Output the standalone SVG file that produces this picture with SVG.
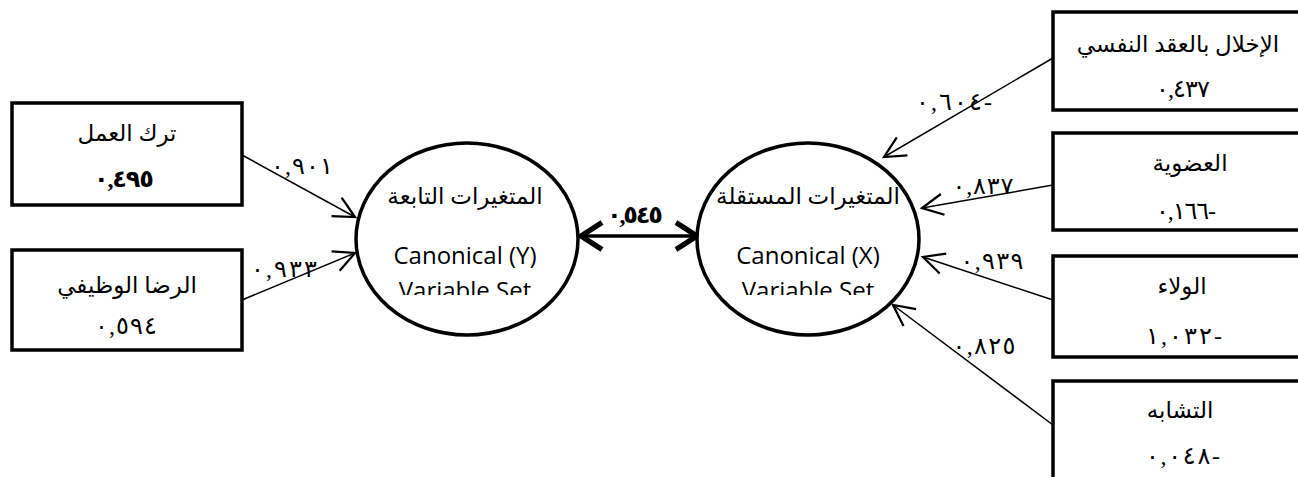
<svg xmlns="http://www.w3.org/2000/svg" width="1298" height="477" viewBox="0 0 1298 477">
<style>
.box{fill:#fff;stroke:#000;stroke-width:3.5}
.ell{fill:#fff;stroke:#000;stroke-width:3.5}
.ar{font-family:"Liberation Serif","DejaVu Sans",serif;font-size:23px;fill:#000;text-anchor:middle}
.num{font-family:"Liberation Serif","DejaVu Sans",serif;font-size:24px;fill:#000;text-anchor:middle}
.lat{font-family:"Open Sans","Liberation Sans",sans-serif;font-size:24px;fill:#000;text-anchor:middle}
.con{stroke:#000;stroke-width:1.5;fill:none}
.big{stroke:#000;stroke-width:3.5;fill:none}
</style>
<defs>
<marker id="ah" markerUnits="userSpaceOnUse" markerWidth="30" markerHeight="30" refX="0" refY="0" viewBox="-16 -10 20 20" orient="auto" overflow="visible">
<path d="M-14,-7 L0,0 L-14,7" fill="none" stroke="#000" stroke-width="1.5"/>
</marker>
<marker id="dh" markerUnits="userSpaceOnUse" markerWidth="30" markerHeight="30" refX="0" refY="0" viewBox="-16 -10 20 20" orient="auto-start-reverse" overflow="visible">
<path d="M-14,-9 L0,0 L-14,9" fill="none" stroke="#000" stroke-width="3.5"/>
</marker>
<clipPath id="cy"><rect x="340" y="140" width="260" height="155"/></clipPath>
<clipPath id="cx"><rect x="680" y="140" width="260" height="155"/></clipPath>
</defs>

<g id="connectors">
<line class="con" x1="242" y1="155" x2="355" y2="217" marker-end="url(#ah)"/>
<line class="con" x1="242" y1="300" x2="355" y2="253" marker-end="url(#ah)"/>
<line class="con" x1="1053" y1="58" x2="884" y2="157" marker-end="url(#ah)"/>
<line class="con" x1="1053" y1="185" x2="922" y2="208" marker-end="url(#ah)"/>
<line class="con" x1="1053" y1="300" x2="923" y2="257" marker-end="url(#ah)"/>
<line class="con" x1="1053" y1="425" x2="893" y2="305" marker-end="url(#ah)"/>
<line class="big" x1="581" y1="236" x2="697" y2="236" marker-start="url(#dh)" marker-end="url(#dh)"/>
<text class="num" x="302" y="174" textLength="62" lengthAdjust="spacing">٠,٩٠١</text>
<text class="num" x="284" y="277" textLength="66" lengthAdjust="spacing">٠,٩٣٣</text>
<text class="num" x="635" y="223" font-weight="bold" textLength="56" lengthAdjust="spacing">٠,٥٤٥</text>
<text class="num" x="954" y="110" textLength="76" lengthAdjust="spacing">٠,٦٠٤-</text>
<text class="num" x="983" y="194" textLength="61" lengthAdjust="spacing">٠,٨٣٧</text>
<text class="num" x="992" y="269" textLength="63" lengthAdjust="spacing">٠,٩٣٩</text>
<text class="num" x="984" y="354" textLength="63" lengthAdjust="spacing">٠,٨٢٥</text>
</g>

<g id="box-tark">
<rect class="box" x="12" y="103" width="230" height="102"/>
<text class="ar" x="127" y="141">ترك العمل</text>
<text class="num" x="124" y="187" font-weight="bold" textLength="60" lengthAdjust="spacing">٠,٤٩٥</text>
</g>
<g id="box-rida">
<rect class="box" x="12" y="250" width="230" height="100"/>
<text class="ar" x="127" y="293">الرضا الوظيفي</text>
<text class="num" x="126" y="334" textLength="62" lengthAdjust="spacing">٠,٥٩٤</text>
</g>

<g id="ellipse-y">
<ellipse class="ell" cx="467" cy="239" rx="111" ry="96"/>
<g clip-path="url(#cy)">
<text class="ar" x="465" y="204">المتغيرات التابعة</text>
<text class="lat" x="465" y="264">Canonical (Y)</text>
<text class="lat" x="465" y="299">Variable Set</text>
</g>
</g>
<g id="ellipse-x">
<ellipse class="ell" cx="808" cy="239" rx="111" ry="96"/>
<g clip-path="url(#cx)">
<text class="ar" x="808" y="204">المتغيرات المستقلة</text>
<text class="lat" x="808" y="264">Canonical (X)</text>
<text class="lat" x="808" y="299">Variable Set</text>
</g>
</g>

<g id="box-ikhlal">
<rect class="box" x="1053" y="12" width="260" height="98"/>
<text class="ar" x="1178" y="52">الإخلال بالعقد النفسي</text>
<text class="num" x="1183" y="97" textLength="54" lengthAdjust="spacing">٠,٤٣٧</text>
</g>
<g id="box-udwiya">
<rect class="box" x="1053" y="133" width="260" height="97"/>
<text class="ar" x="1190" y="171">العضوية</text>
<text class="num" x="1186" y="219" textLength="60" lengthAdjust="spacing">٠,١٦٦-</text>
</g>
<g id="box-walaa">
<rect class="box" x="1053" y="256" width="260" height="101"/>
<text class="ar" x="1182" y="294">الولاء</text>
<text class="num" x="1184" y="344" textLength="76" lengthAdjust="spacing">١,٠٣٢-</text>
</g>
<g id="box-tashabuh">
<rect class="box" x="1053" y="381" width="260" height="110"/>
<text class="ar" x="1180" y="418">التشابه</text>
<text class="num" x="1183" y="464" textLength="74" lengthAdjust="spacing">٠,٠٤٨-</text>
</g>
</svg>
